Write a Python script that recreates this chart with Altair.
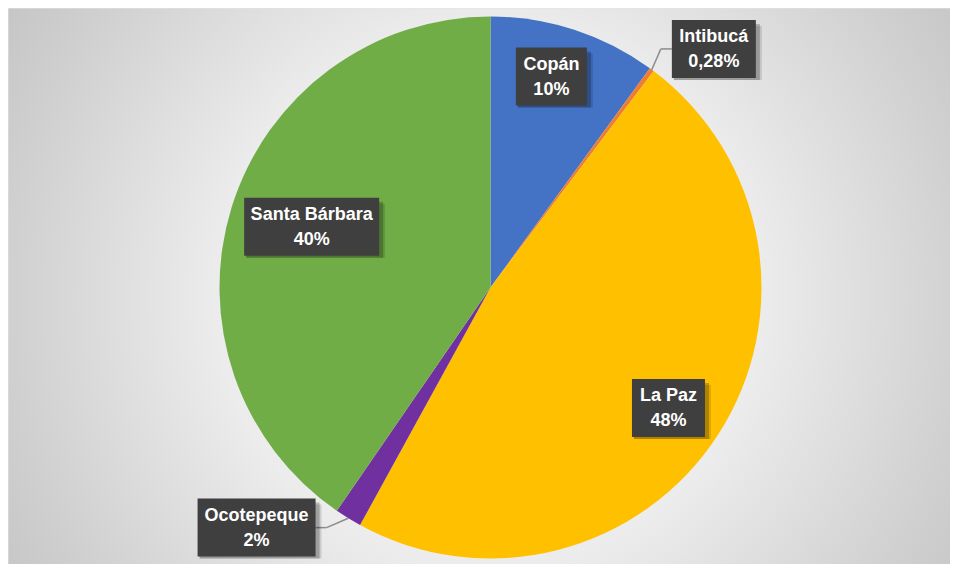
import altair as alt
import pandas as pd

# ---------------- data ----------------
depts = ["Copán", "Intibucá", "La Paz", "Ocotepeque", "Santa Bárbara"]
shares = [10.0, 0.28, 47.7, 1.6, 40.4]
pct_text = ["10%", "0,28%", "48%", "2%", "40%"]
slice_colors = ["#4472C4", "#ED7D31", "#FFC000", "#7030A0", "#70AD47"]

# ---------------- layout ----------------
W, H = 942, 560            # view size (px)
CX, CY, R = 482.5, 279.5, 271   # pie centre / radius in px inside the view
BOX_H = 58
ELBOW = 11
# label placement: radius factor, angle nudge (deg), box width (px), leader line
label_layout = {
    "Copán": (0.81, -1.9, 71, False),
    "Intibucá": (1.206, 6.6, 84, True),
    "La Paz": (0.793, 1.2, 73, False),
    "Ocotepeque": (1.237, 12.6, 118, True),
    "Santa Bárbara": (0.697, 1.5, 135, False),
}

df = pd.DataFrame({
    "idx": list(range(len(depts))),
    "dept": depts,
    "share": shares,
    "label": [f"{d}\n{p}" for d, p in zip(depts, pct_text)],
    "rf": [label_layout[d][0] for d in depts],
    "dtheta": [label_layout[d][1] for d in depts],
    "bw": [label_layout[d][2] for d in depts],
    "leader": [label_layout[d][3] for d in depts],
})

xs = alt.Scale(domain=[-CX / R, (W - CX) / R], nice=False, zero=False)
ys = alt.Scale(domain=[-(H - CY) / R, CY / R], nice=False, zero=False)

base = alt.Chart(df).transform_joinaggregate(
    total="sum(share)"
).transform_window(
    cum="sum(share)", sort=[alt.SortField("idx")], frame=[None, 0]
).transform_calculate(
    mid0="(datum.cum - datum.share / 2) / datum.total * 2 * PI",
).transform_calculate(
    mid="datum.mid0 + datum.dtheta * PI / 180",
    ex="sin(datum.mid0)",
    ey="cos(datum.mid0)",
).transform_calculate(
    lx="datum.rf * sin(datum.mid)",
    ly="datum.rf * cos(datum.mid)",
).transform_calculate(
    bx1=f"datum.lx - datum.bw / 2 / {R}",
    bx2=f"datum.lx + datum.bw / 2 / {R}",
    by1=f"datum.ly - {BOX_H / 2} / {R}",
    by2=f"datum.ly + {BOX_H / 2} / {R}",
    side="datum.ex > datum.lx ? 1 : -1",
).transform_calculate(
    ax=f"datum.lx + datum.side * datum.bw / 2 / {R}",
).transform_calculate(
    elx=f"datum.ax + datum.side * {ELBOW} / {R}",
)

gradient = alt.RadialGradient(
    gradient="radial",
    x1=0.5, y1=0.5, r1=0,
    x2=0.5, y2=0.5, r2=0.6,
    stops=[
        alt.GradientStop(color="#f6f6f6", offset=0),
        alt.GradientStop(color="#ececec", offset=0.47),
        alt.GradientStop(color="#d0d0d0", offset=0.83),
        alt.GradientStop(color="#c4c4c4", offset=1),
    ],
)

background = alt.Chart(alt.Data(values=[{}])).mark_rect(
    fill=gradient, stroke="#e4e4e4", strokeWidth=1
).encode(
    x=alt.value(0), x2=alt.value(W + 20), y=alt.value(0), y2=alt.value(H + 20)
)

pie = alt.Chart(df).mark_arc(radius=R).encode(
    theta=alt.Theta("share:Q", stack=True),
    order=alt.Order("idx:Q"),
    color=alt.Color("dept:N", scale=alt.Scale(domain=depts, range=slice_colors), legend=None),
    x=alt.XDatum(0, type="quantitative", scale=xs, axis=None),
    y=alt.YDatum(0, type="quantitative", scale=ys, axis=None),
)

leaders = base.transform_filter("datum.leader")
seg1 = leaders.mark_rule(color="#8c8c8c", strokeWidth=1.5).encode(
    x=alt.X("ex:Q", scale=xs, axis=None), y=alt.Y("ey:Q", scale=ys, axis=None),
    x2="elx:Q", y2="ly:Q",
)
seg2 = leaders.mark_rule(color="#8c8c8c", strokeWidth=1.5).encode(
    x=alt.X("elx:Q", scale=xs, axis=None), y=alt.Y("ly:Q", scale=ys, axis=None),
    x2="ax:Q", y2="ly:Q",
)

box_enc = dict(
    x=alt.X("bx1:Q", scale=xs, axis=None), x2="bx2:Q",
    y=alt.Y("by1:Q", scale=ys, axis=None), y2="by2:Q",
)
shadow1 = base.mark_rect(color="black", opacity=0.12,
                         xOffset=2, x2Offset=6, yOffset=2, y2Offset=6).encode(**box_enc)
shadow2 = base.mark_rect(color="black", opacity=0.22,
                         xOffset=2, x2Offset=4, yOffset=2, y2Offset=4).encode(**box_enc)
boxes = base.mark_rect(color="#3f3f3f").encode(**box_enc)

texts = base.mark_text(
    font="Liberation Sans", fontWeight="bold", fontSize=18, color="white",
    lineBreak="\n", lineHeight=25, align="center", baseline="middle", dy=-12,
).encode(
    x=alt.X("lx:Q", scale=xs, axis=None),
    y=alt.Y("ly:Q", scale=ys, axis=None),
    text="label:N",
)

chart = alt.layer(
    background, pie, seg1, seg2, shadow1, shadow2, boxes, texts
).properties(
    width=W, height=H, autosize="none", padding=0
).configure_view(stroke=None)

chart.save("out.html", embed_options={"renderer": "svg", "actions": False})
